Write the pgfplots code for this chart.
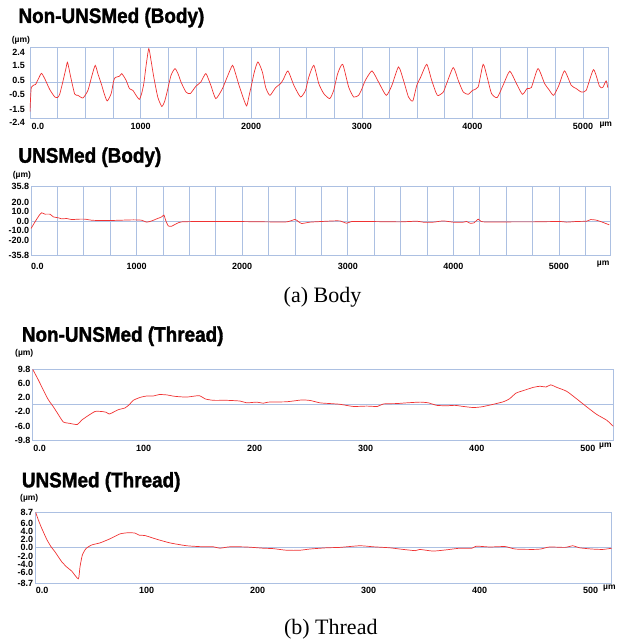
\documentclass[border=0pt]{standalone}
\usepackage{fontspec}
\setmainfont{Liberation Sans}
\newfontfamily\seriffont{Liberation Serif}
\newfontfamily\titlefont[FakeBold=1.6]{Liberation Sans Bold}
\usepackage{graphicx}
\usepackage{pgfplots}
\pgfplotsset{compat=1.18}
\definecolor{gb}{RGB}{172,192,226}
\definecolor{cr}{RGB}{240,50,50}
\pgfplotsset{
  prof/.style={
    scale only axis, anchor=south west,
    axis line style={gb, line width=0.8pt},
    major tick length=0pt, minor tick length=0pt,
    tick style={draw=none},
    ticklabel style={font=\fontsize{9}{9}\selectfont\bfseries, inner sep=0pt},
    xticklabel style={anchor=north},
    yticklabel style={anchor=east},
    major grid style={gb, line width=0.6pt},
    extra y ticks={0}, extra y tick labels={},
    extra y tick style={grid=major, major grid style={gb, line width=1pt}},
  },
  curve/.style={cr, line width=0.7pt, no marks, smooth, tension=0.35},
}
\newcommand{\ttl}[1]{\scalebox{0.9}[1]{\fontsize{21}{21}\selectfont\titlefont #1}}
\newcommand{\sm}{\fontsize{8.5}{9}\selectfont\bfseries}
\begin{document}
\begin{tikzpicture}[x=1pt,y=1pt]
\useasboundingbox (0,0) rectangle (623,641);

% ---------- Panel 1: Non-UNSMed (Body)
\begin{axis}[prof, at={(30pt,522.7pt)}, width=578pt, height=70.6pt,
  xmin=0, xmax=5226, ymin=-2.4, ymax=2.4,
  xtick={250,500,...,5000}, xmajorgrids=true,
  xticklabels={,,,1000,,,,2000,,,,3000,,,,4000,,,,5000},
  extra x ticks={0}, extra x tick labels={0.0},
  extra x tick style={grid=none, xticklabel style={anchor=north west, xshift=1.5pt}},
  xticklabel style={yshift=-4.7pt},
  ytick={-2.4,-1.5,-0.5,0.5,1.5,2.4},
  yticklabels={-2.4,-1.5,-0.5,0.5,1.5,2.4},
  yticklabel style={xshift=-5pt, yshift=-4.5pt},
]
\addplot[curve] coordinates {
(0,-1.95) (12,-0.3) (50,-0.1) (80,0.35) (104,0.66) (133,0.3) (179,-0.45) (224,-0.95) (250,-0.98)
(269,-0.75) (299,0.15) (325,1.0) (338,1.41) (352,1.0) (368,0.41) (404,-0.75) (434,-0.84) (479,-1.02)
(524,-0.5) (560,0.5) (590,1.2) (615,0.6) (644,-0.04) (670,-0.7) (698,-1.22) (734,-0.72) (755,0.1)
(770,0.37) (809,0.46) (830,0.64) (869,0.18) (899,-0.38) (930,-0.5) (960,-0.85) (989,-1.11) (1010,-0.7)
(1029,-0.04) (1050,1.2) (1074,2.34) (1095,1.5) (1119,0.41) (1155,-0.95) (1191,-1.59) (1215,-1.3)
(1236,-0.72) (1275,0.52) (1311,0.98) (1340,0.6) (1365,0.07) (1410,-0.61) (1449,-0.72) (1500,-0.22)
(1545,0.07) (1590,0.64) (1635,-0.16) (1680,-1.06) (1740,-0.38) (1786,0.46) (1831,1.2) (1860,0.6)
(1890,-0.16) (1930,-1.06) (1959,-1.56) (1980,-0.9) (2002,-0.16) (2030,0.8) (2061,1.43) (2101,0.75)
(2131,-0.31) (2169,-0.84) (2221,-0.31) (2266,-0.04) (2291,0.25) (2332,0.82) (2386,-0.16) (2446,-0.95)
(2491,-0.5) (2521,0.41) (2566,1.2) (2611,-0.04) (2656,-0.72) (2710,-1.06) (2746,-0.5) (2782,0.64)
(2827,1.27) (2881,-0.27) (2926,-0.95) (2971,-0.84) (3002,-0.38) (3032,0.18) (3092,0.82) (3151,0.07)
(3221,-0.84) (3272,-0.16) (3332,1.09) (3377,0.18) (3422,-0.95) (3461,-1.22) (3497,-0.16) (3533,0.41)
(3587,1.27) (3632,0.18) (3683,-0.84) (3737,-0.61) (3767,-0.04) (3827,1.05) (3872,0.18) (3917,-0.61)
(3962,-0.77) (4001,-0.5) (4052,-0.27) (4097,1.27) (4133,0.41) (4173,-0.72) (4224,-0.99) (4277,-0.16)
(4338,0.8) (4398,-0.04) (4452,-0.77) (4494,-0.38) (4533,-0.31) (4593,0.98) (4653,-0.04) (4692,-0.45)
(4734,-0.84) (4782,-0.16) (4833,0.82) (4894,-0.16) (4939,-0.38) (4984,-0.61) (5029,-0.5) (5095,0.91)
(5149,-0.22) (5178,-0.31) (5209,0.14) (5224,-0.31)
};
\end{axis}

% ---------- Panel 2: UNSMed (Body)
\begin{axis}[prof, at={(31pt,385.3pt)}, width=579pt, height=69pt,
  xmin=0, xmax=5483, ymin=-35.8, ymax=35.8,
  xtick={250,500,...,5250}, xmajorgrids=true,
  xticklabels={,,,1000,,,,2000,,,,3000,,,,4000,,,,5000,},
  extra x ticks={0}, extra x tick labels={0.0},
  extra x tick style={grid=none, xticklabel style={anchor=north west, xshift=0pt}},
  xticklabel style={yshift=-7pt},
  ytick={-35.8,-20,-10,0,10,20,35.8},
  yticklabels={-35.8,-20.0,-10.0,0.0,10.0,20.0,35.8},
  yticklabel style={xshift=-1.7pt},
]
\addplot[curve] coordinates {
(0,-7.6) (38,-0.7) (79,6.3) (101,8.7) (133,7.3) (180,7.3) (211,4.5) (259,3.5) (290,2.4) (338,2.8)
(385,1.7) (448,2.1) (511,2.1) (574,1.0) (653,0.7) (748,0.7) (843,1.0) (969,1.4) (1048,1.0) (1095,-1.0)
(1143,0.3) (1190,2.4) (1238,4.5) (1259,6.3) (1275,1.0) (1300,-4.9) (1332,-5.2) (1380,-2.4) (1427,-0.7)
(1600,-0.3) (1916,-0.3) (2232,-0.7) (2421,-0.7) (2500,1.8) (2531,-0.3) (2563,-2.4) (2642,-1.0)
(2753,-0.3) (2863,0.3) (2926,0.3) (2989,-2.1) (3037,-0.3) (3179,-0.3) (3494,-0.7) (3652,0.0)
(3715,-1.0) (3810,-1.0) (3904,0.3) (3999,-1.0) (4094,-1.0) (4125,-0.3) (4157,-2.1) (4195,-1.7)
(4236,2.1) (4283,-0.7) (4599,-0.7) (4757,-0.7) (5009,-0.3) (5073,-1.0) (5167,-0.3) (5262,0.0)
(5300,1.7) (5357,1.0) (5420,-1.4) (5476,-3.8)
};
\end{axis}

% ---------- Panel 3: Non-UNSMed (Thread)
\begin{axis}[prof, at={(32.7pt,201pt)}, width=580.6pt, height=70.7pt,
  xmin=0, xmax=523, ymin=-9.8, ymax=9.8,
  xtick={100,200,...,500},
  xticklabels={100,200,300,400,500},
  extra x ticks={0}, extra x tick labels={0.0},
  extra x tick style={grid=none, xticklabel style={anchor=north west, xshift=0.5pt}},
  xticklabel style={yshift=-5pt},
  ytick={-9.8,-6,-2,2,6,9.8},
  yticklabels={-9.8,-6.0,-2.0,2.0,6.0,9.8},
  yticklabel style={xshift=-2pt},
]
\addplot[curve] coordinates {
(0,9.8) (5,6.9) (9.5,4.1) (14,1.4) (18.6,-0.6) (23,-2.7) (27.6,-4.8) (33.6,-5.2) (40.2,-5.5) (44.1,-4.3)
(49.2,-3.2) (56.1,-1.9) (62.1,-1.9) (66,-2.1) (69,-2.6) (72.6,-2.1) (77.1,-1.4) (83.2,-0.9) (87,0)
(90.6,1.2) (96.7,2.0) (102.7,2.4) (108.6,2.4) (114,2.8) (120.7,2.7) (128.2,2.3) (138.7,2.1) (150.1,2.5)
(155.2,1.6) (162.7,1.2) (174.8,1.2) (186.8,1.0) (192.8,0.5) (201.8,0.7) (207.7,0.4) (212.3,0.7)
(228.8,0.8) (242.3,1.3) (250,1.15) (258.8,0.5) (267.8,0.3) (276.8,0.1) (288.8,-0.5) (300.9,-0.4)
(310.5,-0.5) (315.9,0.2) (327.9,0.3) (336.9,0.5) (349,0.7) (356.4,0.5) (364,-0.2) (373,-0.3)
(380.5,-0.2) (387.9,-0.5) (396.9,-0.8) (404.5,-0.6) (413.5,0) (424,0.8) (429.4,1.6) (435.4,3.2)
(442,3.9) (451,4.8) (457,5.1) (462.4,4.9) (466.7,5.5) (472,4.8) (481,3.7) (490,1.6) (499,-0.6)
(508,-2.7) (517,-4.3) (523,-6.0)
};
\end{axis}

% ---------- Panel 4: UNSMed (Thread)
\begin{axis}[prof, at={(35.7pt,57.7pt)}, width=576pt, height=71pt,
  xmin=0, xmax=519, ymin=-8.7, ymax=8.7,
  xtick={100,200,...,500},
  xticklabels={100,200,300,400,500},
  extra x ticks={0}, extra x tick labels={0.0},
  extra x tick style={grid=none, xticklabel style={anchor=north west, xshift=0pt}},
  xticklabel style={yshift=-3.4pt},
  ytick={-8.7,-6,-4,-2,0,2,4,6,8.7},
  yticklabels={-8.7,-6.0,-4.0,-2.0,0.0,2.0,4.0,6.0,8.7},
  yticklabel style={xshift=-2.4pt},
]
\addplot[curve] coordinates {
(0,8.7) (2.4,6.8) (5.4,4.8) (9.9,2.1) (13.5,0.4) (17.4,-1.0) (20.4,-2.2) (23.4,-3.4) (27.9,-4.7)
(32.4,-5.7) (38.4,-7.6) (39.9,-4.7) (42,-1.8) (45.3,-0.2) (50.5,0.7) (57.9,1.2) (66.9,2.2) (75.9,3.4)
(83.4,3.7) (89.5,3.6) (93.3,3.1) (98.5,3.0) (109,2.1) (121,1.2) (136,0.5) (151,0.25) (160,0.25)
(166,-0.1) (175,0.25) (190,0.2) (205,-0.1) (214,-0.2) (226,-0.6) (238,-0.6) (247,-0.3) (262,0)
(274,0.1) (292,0.5) (304,0.25) (319,0) (328,-0.3) (342,-0.7) (346,-0.4) (358,-0.8) (370,-0.5)
(382,-0.1) (393,-0.1) (397,0.4) (409,0.2) (423,0.3) (432,-0.3) (448,-0.4) (455,-0.3) (463,0.2)
(477,0.1) (484,0.5) (490,0) (501,-0.3) (511,-0.4) (519,-0.1)
};
\end{axis}

% ---------- Titles and labels
\node[anchor=base west, inner sep=0pt] at (18.3,618) {\ttl{Non-UNSMed (Body)}};
\node[anchor=base west, inner sep=0pt] at (18.3,478.3) {\ttl{UNSMed (Body)}};
\node[anchor=base west, inner sep=0pt] at (21.7,299.3) {\ttl{Non-UNSMed (Thread)}};
\node[anchor=base west, inner sep=0pt] at (21.7,153.7) {\ttl{UNSMed (Thread)}};

\node[anchor=west, inner sep=0pt] at (11.7,601) {\sm (µm)};
\node[anchor=west, inner sep=0pt] at (12.7,466) {\sm (µm)};
\node[anchor=west, inner sep=0pt] at (15,287.3) {\sm (µm)};
\node[anchor=west, inner sep=0pt] at (20,143) {\sm (µm)};

\node[anchor=west, inner sep=0pt] at (599.3,516) {\sm µm};
\node[anchor=west, inner sep=0pt] at (596.7,377) {\sm µm};
\node[anchor=west, inner sep=0pt] at (599,195) {\sm µm};
\node[anchor=west, inner sep=0pt] at (603,53) {\sm µm};

\node[anchor=base, inner sep=0pt] at (322.5,338) {\seriffont\fontsize{22}{22}\selectfont (a) Body};
\node[anchor=base, inner sep=0pt] at (330.8,6.3) {\seriffont\fontsize{22}{22}\selectfont (b) Thread};
\end{tikzpicture}
\end{document}
